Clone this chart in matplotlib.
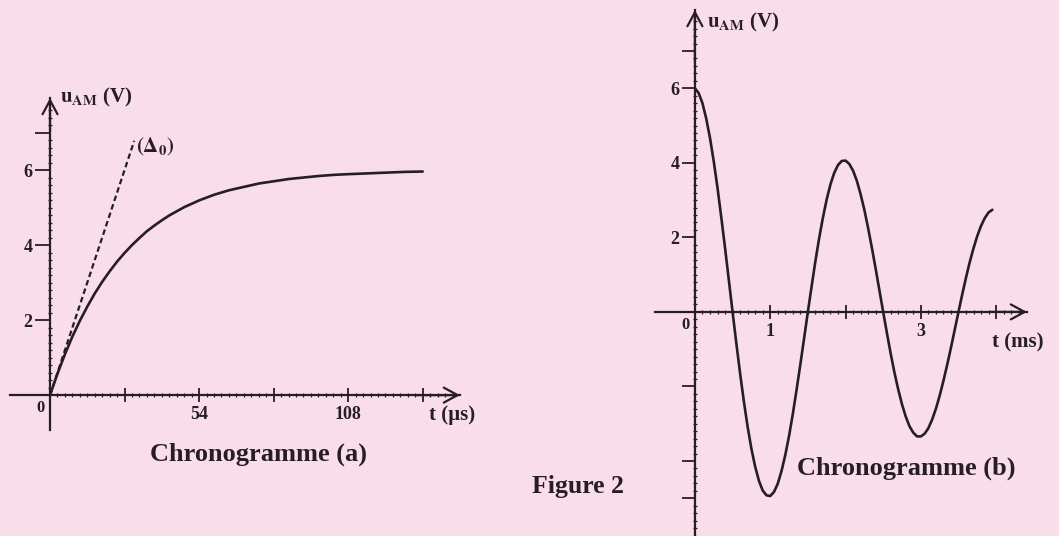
import numpy as np
import matplotlib.pyplot as plt
from matplotlib.ticker import FixedLocator

W, H = 1059, 536
BG = '#f9dde9'
INK = '#261e23'

# Chronogramme (a) : charge du condensateur, t en µs, u_AM en V
t_a = [0, 2.7, 5.4, 8.1, 10.8, 13.5, 16.2, 18.9, 21.6, 24.3, 27, 29.7, 32.4,
       35.1, 37.8, 40.5, 43.2, 45.9, 48.6, 51.3, 54, 59.4, 64.8, 70.2, 75.6,
       81, 86.4, 91.8, 97.2, 102.6, 108, 114.75, 121.5, 128.25, 135]
u_a = [0, 0.57, 1.09, 1.56, 1.98, 2.36, 2.71, 3.02, 3.30, 3.56, 3.79, 4.00,
       4.19, 4.37, 4.52, 4.66, 4.79, 4.90, 5.01, 5.10, 5.19, 5.34, 5.46, 5.55,
       5.64, 5.70, 5.76, 5.80, 5.84, 5.87, 5.89, 5.91, 5.93, 5.95, 5.96]
# tangente a l'origine (Delta0)
t_tan = [0, 30.5]
u_tan = [0, 6.78]

# Chronogramme (b) : oscillations amorties, t en ms
t_b = [0.0, 0.05, 0.1, 0.15, 0.2, 0.25, 0.3, 0.35, 0.4, 0.45, 0.5, 0.55, 0.6,
       0.65, 0.7, 0.75, 0.8, 0.85, 0.9, 0.95, 1.0, 1.05, 1.1, 1.15, 1.2, 1.25,
       1.3, 1.35, 1.4, 1.45, 1.5, 1.55, 1.6, 1.65, 1.7, 1.75, 1.8, 1.85, 1.9,
       1.95, 2.0, 2.05, 2.1, 2.15, 2.2, 2.25, 2.3, 2.35, 2.4, 2.45, 2.5, 2.55,
       2.6, 2.65, 2.7, 2.75, 2.8, 2.85, 2.9, 2.95, 3.0, 3.05, 3.1, 3.15, 3.2,
       3.25, 3.3, 3.35, 3.4, 3.45, 3.5, 3.55, 3.6, 3.65, 3.7, 3.75, 3.8, 3.85,
       3.9, 3.95]
u_b = [6.00, 5.87, 5.60, 5.19, 4.67, 4.04, 3.33, 2.54, 1.72, 0.86, 0.00,
       -0.84, -1.65, -2.40, -3.08, -3.67, -4.15, -4.53, -4.79, -4.92, -4.94,
       -4.83, -4.61, -4.27, -3.84, -3.33, -2.74, -2.09, -1.41, -0.71, 0.00,
       0.69, 1.36, 1.98, 2.53, 3.02, 3.42, 3.73, 3.94, 4.05, 4.06, 3.97, 3.79,
       3.52, 3.16, 2.74, 2.25, 1.72, 1.16, 0.58, 0.00, -0.57, -1.12, -1.63,
       -2.08, -2.48, -2.81, -3.07, -3.24, -3.34, -3.34, -3.27, -3.12, -2.89,
       -2.60, -2.25, -1.85, -1.42, -0.96, -0.48, 0.00, 0.47, 0.92, 1.34, 1.71,
       2.04, 2.31, 2.52, 2.67, 2.74]

plt.rcParams['font.family'] = ['Liberation Serif', 'DejaVu Serif']
plt.rcParams['font.weight'] = 'bold'
plt.rcParams['mathtext.fontset'] = 'stix'

fig = plt.figure(figsize=(W / 100, H / 100), dpi=100, facecolor=BG)


def px_axes(x0, x1, y_top, y_bot):
    return fig.add_axes([x0 / W, 1 - y_bot / H, (x1 - x0) / W, (y_bot - y_top) / H])


def px_text(x, y, s, size, ha='left'):
    fig.text(x / W, 1 - y / H, s, fontsize=size, ha=ha, va='center',
             color=INK, fontweight='bold')


def setup(ax, xlim, ylim, ylen):
    ax.set_facecolor('none')
    ax.set_xlim(*xlim)
    ax.set_ylim(*ylim)
    for s in ['top', 'right']:
        ax.spines[s].set_visible(False)
    for s in ['left', 'bottom']:
        ax.spines[s].set_position(('data', 0))
        ax.spines[s].set_linewidth(1.6)
        ax.spines[s].set_color(INK)
    ax.tick_params(axis='y', which='major', direction='out', length=ylen,
                   width=1.3, pad=1.5, labelsize=13, colors=INK)
    ax.tick_params(axis='y', which='minor', direction='inout', length=3.5,
                   width=0.9, colors=INK)
    ax.tick_params(axis='x', which='major', direction='inout', length=10,
                   width=1.3, pad=3, labelsize=13, colors=INK)
    ax.tick_params(axis='x', which='minor', direction='inout', length=3.5,
                   width=0.9, colors=INK)
    arrow = dict(arrowstyle='->,head_length=0.5,head_width=0.27', lw=1.6,
                 color=INK, shrinkA=0, shrinkB=0, mutation_scale=20)
    ax.annotate('', xy=(1, 0), xytext=(0.9, 0), xycoords=ax.get_yaxis_transform(),
                arrowprops=arrow, annotation_clip=False)
    ax.annotate('', xy=(0, 1), xytext=(0, 0.9), xycoords=ax.get_xaxis_transform(),
                arrowprops=arrow, annotation_clip=False)


# ---- Chronogramme (a)
ax1 = px_axes(10, 460, 98, 430)
setup(ax1, (-14.5, 148.5), (-0.93, 7.92), 11)
ax1.xaxis.set_major_locator(FixedLocator([27, 54, 81, 108, 135]))
ax1.set_xticklabels(['', '54', '', '108', ''])
ax1.xaxis.set_minor_locator(FixedLocator(np.arange(2.7, 146, 2.7)))
ax1.yaxis.set_major_locator(FixedLocator([2, 4, 6, 7]))
ax1.set_yticklabels(['2', '4', '6', ''])
ax1.yaxis.set_minor_locator(FixedLocator(np.arange(0.2, 7.7, 0.2)))
ax1.plot(t_a, u_a, color=INK, lw=1.9, solid_capstyle='round',
         solid_joinstyle='round', clip_on=False)
ax1.plot(t_tan, u_tan, color=INK, lw=1.6, dashes=(2.5, 1.5), clip_on=False)
ax1.annotate('0', xy=(0, 0), xytext=(-7, -9), textcoords='offset points',
             ha='center', va='center', fontsize=12, color=INK)

px_text(60, 97, r'$\mathbf{u}_{\mathbf{AM}}$ (V)', 15)
px_text(136, 147, r'$(\mathbf{\Delta}_{\mathbf{0}})$', 15)
px_text(429, 415, 't (µs)', 15)
px_text(258, 454, 'Chronogramme (a)', 19, ha='center')

# ---- Chronogramme (b)
ax2 = px_axes(655, 1027, 10, 543)
setup(ax2, (-0.53, 4.41), (-6.2, 8.1), 9.5)
ax2.xaxis.set_major_locator(FixedLocator([1, 2, 3, 4]))
ax2.set_xticklabels(['1', '', '3', ''])
ax2.xaxis.set_minor_locator(FixedLocator(np.arange(0.1, 4.35, 0.1)))
ax2.yaxis.set_major_locator(FixedLocator([-5, -4, -2, 2, 4, 6, 7]))
ax2.set_yticklabels(['', '', '', '2', '4', '6', ''])
minor_b = [v for v in np.arange(-6.2, 7.9, 0.2) if abs(v) > 0.05]
ax2.yaxis.set_minor_locator(FixedLocator(minor_b))
ax2.plot(t_b, u_b, color=INK, lw=1.9, solid_capstyle='round',
         solid_joinstyle='round', clip_on=False)
ax2.annotate('0', xy=(0, 0), xytext=(-6.5, -9.5), textcoords='offset points',
             ha='center', va='center', fontsize=12, color=INK)

px_text(707, 22, r'$\mathbf{u}_{\mathbf{AM}}$ (V)', 15)
px_text(992, 342, 't (ms)', 15)
px_text(906, 468, 'Chronogramme (b)', 19, ha='center')

px_text(578, 487, 'Figure 2', 18.5, ha='center')

fig.savefig('out.png', dpi=100, facecolor=BG)
